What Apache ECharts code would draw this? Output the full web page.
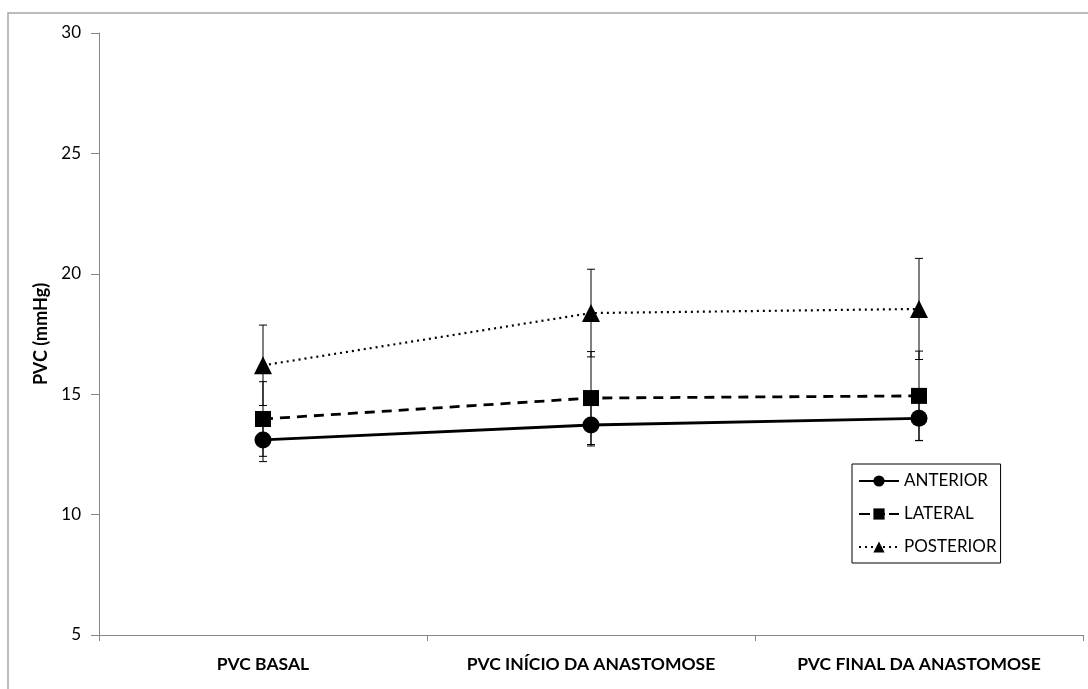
<!DOCTYPE html>
<html><head><meta charset="utf-8">
<script src="https://cdn.jsdelivr.net/npm/echarts@6/dist/echarts.min.js"></script>
<style>html,body{margin:0;padding:0;background:#fff}#c{width:1088px;height:689px}</style>
</head><body><div id="c"></div>
<script>
const categories = ['PVC BASAL', 'PVC INÍCIO DA ANASTOMOSE', 'PVC FINAL DA ANASTOMOSE'];
const anterior = [13.1, 13.72, 14.0];
const anteriorErr = [0.9, 0.87, 0.92];
const lateral = [13.97, 14.84, 14.93];
const lateralErr = [1.55, 1.93, 1.86];
const posterior = [16.2, 18.37, 18.54];
const posteriorErr = [1.67, 1.82, 2.1];
const yTicks = [5, 10, 15, 20, 25, 30];

const FONT = 'Lato, "Open Sans", sans-serif';
const chart = echarts.init(document.getElementById('c'));

function errSeries(vals, errs, z) {
  return {
    type: 'custom', z: z, silent: true,
    data: vals.map((v, i) => [i, v - errs[i], v + errs[i]]),
    renderItem: function (params, api) {
      const lo = api.coord([api.value(0), api.value(1)]);
      const hi = api.coord([api.value(0), api.value(2)]);
      const hw = 4;
      const st = { stroke: '#000', lineWidth: 1 };
      return { type: 'group', children: [
        { type: 'line', shape: { x1: lo[0], y1: lo[1], x2: hi[0], y2: hi[1] }, style: st },
        { type: 'line', shape: { x1: lo[0]-hw, y1: lo[1], x2: lo[0]+hw, y2: lo[1] }, style: st },
        { type: 'line', shape: { x1: hi[0]-hw, y1: hi[1], x2: hi[0]+hw, y2: hi[1] }, style: st }
      ]};
    }
  };
}

chart.setOption({
  animation: false,
  backgroundColor: '#fff',
  graphic: [{ type: 'rect', shape: { x: 8, y: 13, width: 1200, height: 800 }, style: { fill: 'none', stroke: '#a6a6a6', lineWidth: 1.5 }, silent: true, z: -10 }],
  grid: { left: 99, right: 5, top: 33, bottom: 54 },
  legend: {
    orient: 'vertical', left: 852, top: 464,
    padding: [7, 4, 6, 6],
    itemGap: 13, itemWidth: 40, itemHeight: 14,
    borderColor: '#000', borderWidth: 1,
    textStyle: { fontFamily: FONT, fontSize: 17, color: '#000', lineHeight: 20 },
    data: [
      { name: 'ANTERIOR' },
      { name: 'LATERAL', lineStyle: { type: [11, 4] } },
      { name: 'POSTERIOR' }
    ]
  },
  xAxis: {
    type: 'category', data: categories, boundaryGap: true,
    axisLine: { lineStyle: { color: '#868686', width: 1 } },
    axisTick: { show: true, length: 6, lineStyle: { color: '#868686' } },
    axisLabel: { fontFamily: FONT, fontWeight: 'bold', fontSize: 17.5, color: '#000', margin: 20 }
  },
  yAxis: {
    type: 'value', min: 5, max: 30, interval: 5,
    name: 'PVC (mmHg)', nameLocation: 'middle', nameGap: 48, nameRotate: 90,
    nameTextStyle: { fontFamily: FONT, fontWeight: 'bold', fontSize: 18, color: '#000' },
    axisLine: { show: true, lineStyle: { color: '#868686', width: 1 } },
    axisTick: { show: true, length: 8, lineStyle: { color: '#868686' } },
    splitLine: { show: false },
    axisLabel: { fontFamily: FONT, fontSize: 17, color: '#000', margin: 18,
      formatter: v => yTicks.includes(v) ? String(v) : '' }
  },
  series: [
    errSeries(posterior, posteriorErr, 1),
    errSeries(lateral, lateralErr, 1),
    errSeries(anterior, anteriorErr, 1),
    { name: 'ANTERIOR', type: 'line', data: anterior, z: 3,
      symbol: 'circle', symbolSize: 17,
      lineStyle: { color: '#000', width: 2.8, type: 'solid' },
      itemStyle: { color: '#000' } },
    { name: 'LATERAL', type: 'line', data: lateral, z: 3,
      symbol: 'rect', symbolSize: 16,
      lineStyle: { color: '#000', width: 2.8, type: [10, 7] },
      itemStyle: { color: '#000' } },
    { name: 'POSTERIOR', type: 'line', data: posterior, z: 3,
      symbol: 'triangle', symbolSize: 18,
      lineStyle: { color: '#000', width: 2.2, type: [2, 4] },
      itemStyle: { color: '#000' } }
  ]
});
</script></body></html>
